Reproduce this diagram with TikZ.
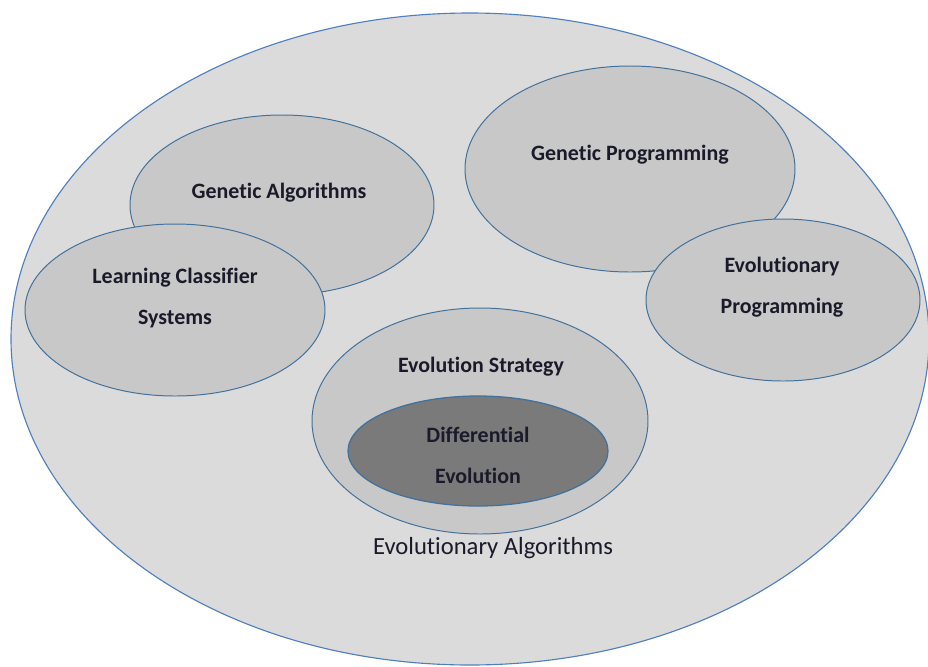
\documentclass[tikz,border=0pt]{standalone}
\usepackage{fontspec}
\setmainfont[Ligatures=NoCommon]{Carlito}
\usetikzlibrary{positioning}

\definecolor{outerfill}{HTML}{DBDBDB}
\definecolor{innerfill}{HTML}{C8C8C8}
\definecolor{darkfill}{HTML}{7A7A7A}
\definecolor{rimblue}{HTML}{4F7FBF}
\definecolor{edgeblue}{HTML}{41719C}
\definecolor{labelink}{HTML}{1A1A2A}

\begin{document}
\begin{tikzpicture}[x=0.025cm, y=-0.025cm,
        outer/.style={fill=outerfill, draw=rimblue, line width=0.8pt},
        blob/.style={fill=innerfill, draw=edgeblue, line width=0.7pt},
        core/.style={fill=darkfill, draw=edgeblue, line width=0.9pt},
        tag/.style={font=\fontsize{15.6}{29}\selectfont\bfseries, text=labelink, align=center, inner sep=0pt},
        bigtag/.style={font=\fontsize{17.5}{21}\selectfont, text=labelink, inner sep=0pt}]
    \useasboundingbox (0,0) rectangle (928,666);

    \path[outer] (470,339) ellipse [x radius=459, y radius=326];

    \path[blob] (282,205) ellipse [x radius=152, y radius=90];
    \path[blob] (175,310) ellipse [x radius=150, y radius=86];
    \path[blob] (630,169) ellipse [x radius=165, y radius=103];
    \path[blob] (783,300) ellipse [x radius=137, y radius=81];
    \path[blob] (480,421) ellipse [x radius=168, y radius=113];
    \path[core] (478,451) ellipse [x radius=130, y radius=55];

    \node[tag] (ga) at (279,193) {Genetic Algorithms};
    \node[tag] (lcs) at (175,298) {Learning Classifier\\Systems};
    \node[tag] (gp) at (630,155) {Genetic Programming};
    \node[tag] (ep) at (782,287) {Evolutionary\\Programming};
    \node[tag] (es) at (481,367) {Evolution Strategy};
    \node[tag] (de) at (478,455) {Differential\\Evolution};
    \node[bigtag] (ea) at (493,548) {Evolutionary Algorithms};
\end{tikzpicture}
\end{document}
